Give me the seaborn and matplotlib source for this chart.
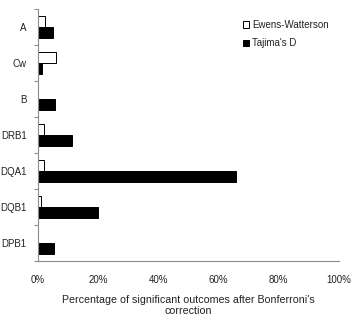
import matplotlib
matplotlib.use("Agg")
import matplotlib.pyplot as plt
import seaborn as sns
import pandas as pd
from matplotlib.patches import Patch
from matplotlib.ticker import FixedLocator, PercentFormatter

loci = ["A", "Cw", "B", "DRB1", "DQA1", "DQB1", "DPB1"]
ewens_watterson = [2.2, 6.0, 0.0, 1.9, 1.9, 1.1, 0.0]
tajimas_d = [5.0, 1.3, 5.5, 11.4, 65.8, 20.0, 5.4]
series_names = ["Ewens-Watterson", "Tajima's D"]
x_ticks = [0, 20, 40, 60, 80, 100]

df = pd.DataFrame({
    "locus": loci * 2,
    "value": ewens_watterson + tajimas_d,
    "test": [series_names[0]] * len(loci) + [series_names[1]] * len(loci),
})

sns.set_theme(style="white")
plt.rcParams["font.family"] = ["Liberation Sans", "DejaVu Sans"]

fig = plt.figure(figsize=(3.55, 3.19), dpi=100)
ax = fig.add_axes([0.107, 0.182, 0.848, 0.790])

sns.barplot(data=df, y="locus", x="value", hue="test", order=loci,
            hue_order=series_names, palette=["white", "black"],
            width=0.6, orient="h", ax=ax, edgecolor="black", linewidth=0.7,
            legend=False, errorbar=None)

ax.set_xlim(0, 100)
ax.set_ylim(len(loci) - 0.5, -0.5)
ax.set_xticks(x_ticks)
ax.xaxis.set_major_formatter(PercentFormatter(decimals=0))
ax.set_ylabel("")
ax.set_xlabel("Percentage of significant outcomes after Bonferroni's\ncorrection",
              fontsize=7.7, color="#222222", labelpad=7, linespacing=1.2)

for s in ["top", "right"]:
    ax.spines[s].set_visible(False)
for s in ["left", "bottom"]:
    ax.spines[s].set_color("#8c8c8c")
    ax.spines[s].set_linewidth(0.8)

ax.tick_params(axis="x", which="major", direction="in", length=3, width=0.8,
               color="#8c8c8c", labelsize=7, labelcolor="#222222", pad=10)
ax.tick_params(axis="y", which="major", length=0, labelsize=7,
               labelcolor="#222222", pad=8)
ax.yaxis.set_minor_locator(FixedLocator([i - 0.5 for i in range(len(loci) + 1)]))
ax.tick_params(axis="y", which="minor", direction="out", length=3, width=0.8,
               color="#8c8c8c", left=True)

handles = [Patch(facecolor="white", edgecolor="black", linewidth=0.7),
           Patch(facecolor="black", edgecolor="black", linewidth=0.7)]
fig.legend(handles, series_names, loc="upper left",
           bbox_to_anchor=(0.66, 0.965), frameon=False, fontsize=7,
           handlelength=0.6, handleheight=0.6, handletextpad=0.3,
           labelspacing=0.85, labelcolor="#222222")

fig.savefig("out.png", dpi=100)
